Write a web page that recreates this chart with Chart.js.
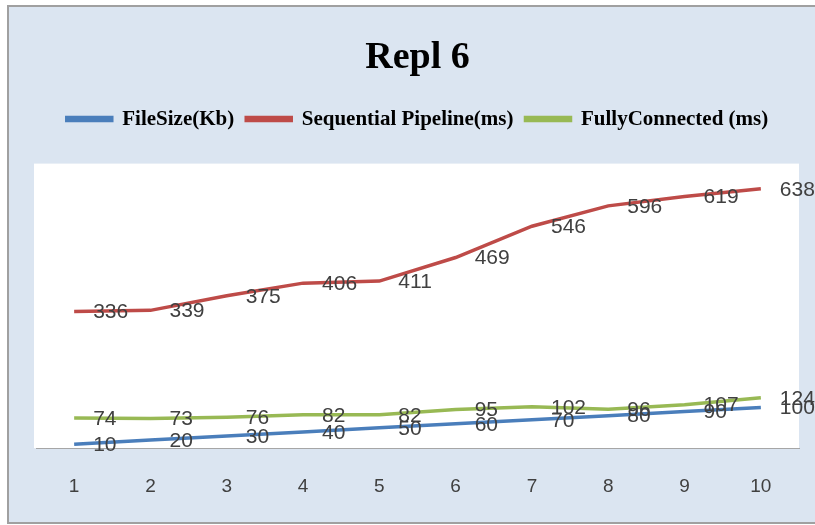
<!DOCTYPE html>
<html>
<head>
<meta charset="utf-8">
<script src="https://cdn.jsdelivr.net/npm/chart.js@4.4.1/dist/chart.umd.min.js"></script>
<style>
  body { margin: 0; background: #ffffff; }
  #box { position: absolute; left: 0; top: 0; width: 815px; height: 525px; }
</style>
</head>
<body>
<div id="box"><canvas id="myChart" width="815" height="525"></canvas></div>
<script>
// Repl 6 data
var xValues = ["1", "2", "3", "4", "5", "6", "7", "8", "9", "10"];
var fileSize = [10, 20, 30, 40, 50, 60, 70, 80, 90, 100];
var seqPipeline = [336, 339, 375, 406, 411, 469, 546, 596, 619, 638];
var fullyConnected = [74, 73, 76, 82, 82, 95, 102, 96, 107, 124];
var seriesNames = ["FileSize(Kb)", "Sequential Pipeline(ms)", "FullyConnected (ms)"];
var lineColors = ["#4a7ebb", "#be4b48", "#98b954"];

// background panel + white plot area
var panelBg = {
  id: "panelBg",
  beforeDraw: function (chart) {
    var ctx = chart.ctx;
    var a = chart.chartArea;
    ctx.save();
    ctx.fillStyle = "#ffffff";
    ctx.fillRect(0, 0, chart.width, chart.height);
    ctx.fillStyle = "#dbe5f1";
    ctx.fillRect(8, 6, chart.width - 8, chart.height - 8);
    ctx.strokeStyle = "#a0a0a0";
    ctx.lineWidth = 2;
    ctx.strokeRect(8, 6, chart.width + 10, chart.height - 8);
    ctx.fillStyle = "#ffffff";
    ctx.fillRect(a.left - 2, a.top, a.right - a.left + 2, a.bottom - a.top);
    ctx.restore();
  }
};

// extra gap under the legend
var legendGap = {
  id: "legendGap",
  beforeInit: function (chart) {
    var fit = chart.legend.fit;
    chart.legend.fit = function () {
      fit.bind(chart.legend)();
      this.height += 24;
    };
  }
};

// value labels to the right of each point
var valueLabels = {
  id: "valueLabels",
  afterDatasetsDraw: function (chart) {
    var ctx = chart.ctx;
    ctx.save();
    ctx.font = "21px 'Liberation Sans Narrow', 'Liberation Sans', sans-serif";
    ctx.fillStyle = "#404040";
    ctx.textAlign = "left";
    ctx.textBaseline = "middle";
    chart.data.datasets.forEach(function (ds, i) {
      var meta = chart.getDatasetMeta(i);
      meta.data.forEach(function (pt, j) {
        ctx.fillText(String(ds.data[j]), pt.x + 19, pt.y + 1);
      });
    });
    ctx.restore();
  }
};

new Chart("myChart", {
  type: "line",
  data: {
    labels: xValues,
    datasets: [
      { label: seriesNames[0], data: fileSize, borderColor: lineColors[0], backgroundColor: lineColors[0] },
      { label: seriesNames[1], data: seqPipeline, borderColor: lineColors[1], backgroundColor: lineColors[1] },
      { label: seriesNames[2], data: fullyConnected, borderColor: lineColors[2], backgroundColor: lineColors[2] }
    ]
  },
  options: {
    responsive: false,
    animation: false,
    layout: { padding: { left: 36, right: 16, top: 0, bottom: 0 } },
    elements: {
      line: { borderWidth: 3.5, tension: 0 },
      point: { radius: 0 }
    },
    plugins: {
      tooltip: { enabled: false },
      title: {
        display: true,
        text: "Repl 6",
        color: "#000000",
        font: { family: "'Liberation Serif', serif", size: 38, weight: "bold" },
        padding: { top: 35, bottom: 16 }
      },
      legend: {
        display: true,
        labels: {
          color: "#000000",
          boxWidth: 45,
          boxHeight: 3,
          padding: 12,
          font: { family: "'Liberation Serif', serif", size: 21, weight: "bold" }
        }
      }
    },
    scales: {
      x: {
        offset: true,
        grid: { display: false, drawTicks: false },
        border: { display: true, color: "#a6a6a6", width: 1 },
        ticks: {
          color: "#404040",
          padding: 27,
          font: { family: "'Liberation Sans Narrow', 'Liberation Sans', sans-serif", size: 19 }
        }
      },
      y: {
        display: false,
        min: 0,
        max: 700
      }
    }
  },
  plugins: [panelBg, legendGap, valueLabels]
});
</script>
</body>
</html>
